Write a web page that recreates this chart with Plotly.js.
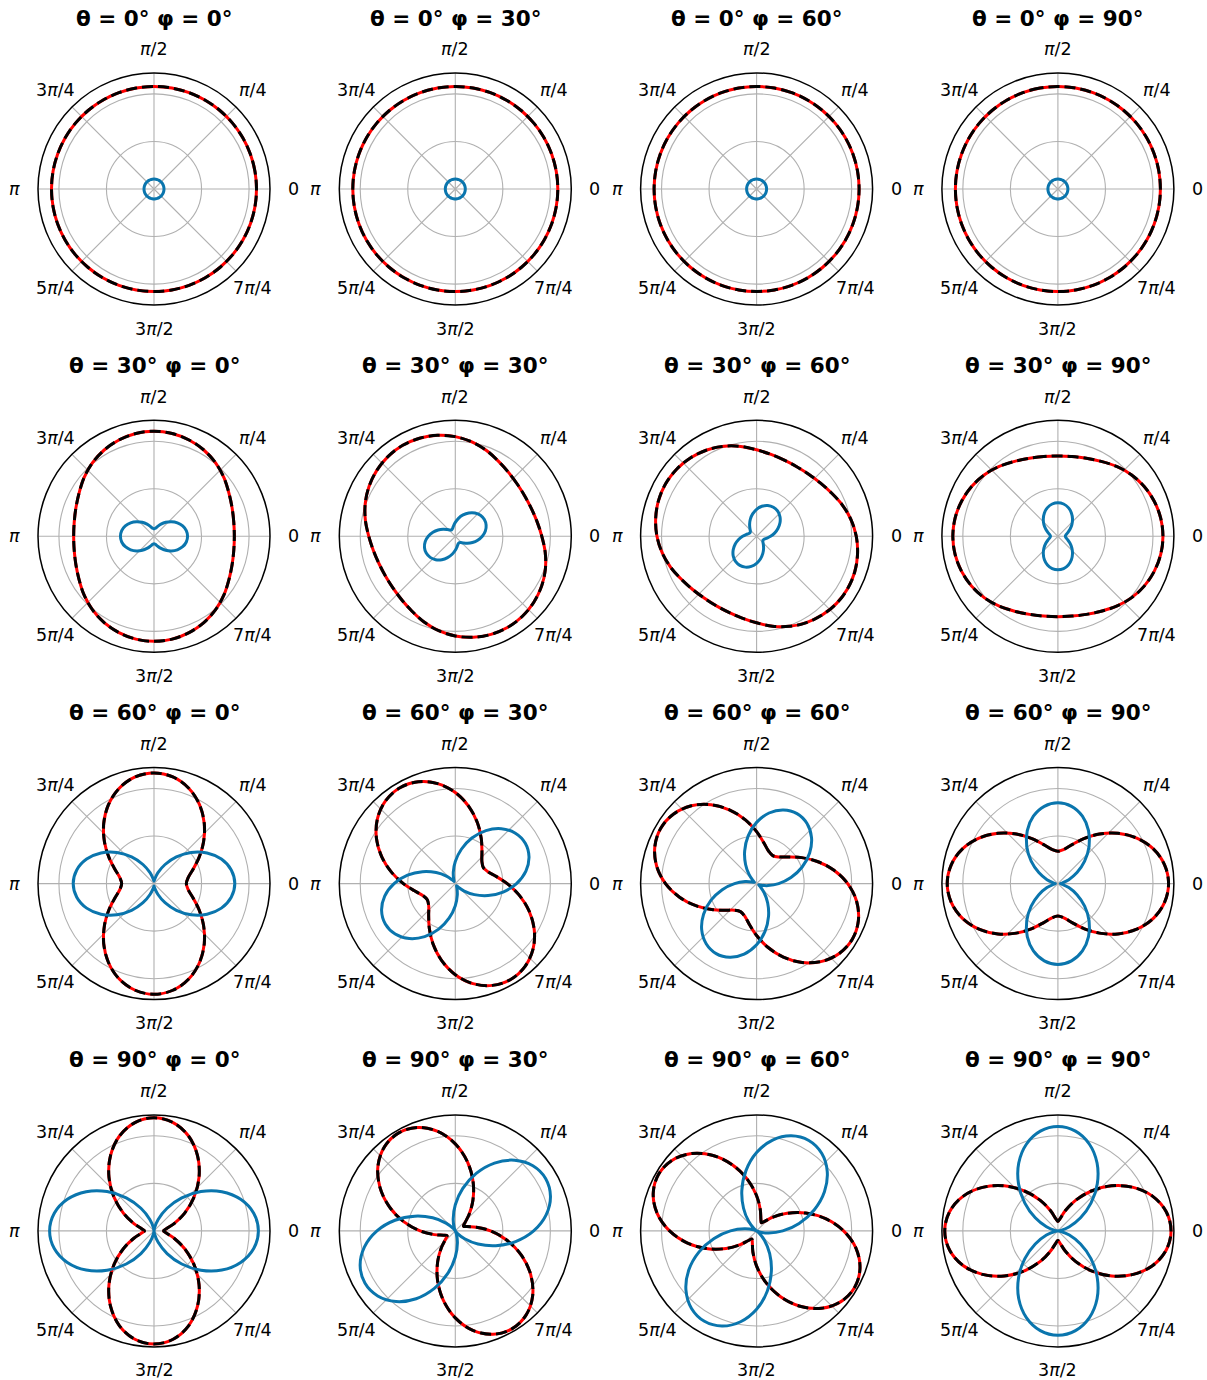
<!DOCTYPE html>
<html>
<head>
<meta charset="utf-8">
<script src="https://cdn.plot.ly/plotly-3.0.1.min.js"></script>
<style>
  html, body { margin: 0; padding: 0; background: #ffffff; }
  #chart { width: 1207px; height: 1380px; }
</style>
</head>
<body>
<div id="chart"></div>
<script>
// ---------------- DATA ----------------
// Polarizer angle (degrees) at which the radii were read (φ = 0 column)
const ALPHA_DEG = [0,10,20,30,40,50,60,70,80,90,100,110,120,130,140,150,160,170,180,
                   190,200,210,220,230,240,250,260,270,280,290,300,310,320,330,340,350,360];

// Row parameters (θ) and column parameters (φ); each φ column is the same pattern turned by φ
const THETA_LIST = [0, 30, 60, 90];
const PHI_LIST = [0, 30, 60, 90];

// Black (with red) curve radii, one list per θ row
const BLACK_T0 = [1.078,1.078,1.078,1.078,1.078,1.078,1.078,1.078,1.078,1.078,1.078,1.078,1.078,1.078,1.078,1.078,1.078,1.078,1.078,
                  1.078,1.078,1.078,1.078,1.078,1.078,1.078,1.078,1.078,1.078,1.078,1.078,1.078,1.078,1.078,1.078,1.078,1.078];
const BLACK_T30 = [0.845,0.852,0.874,0.910,0.960,1.008,1.048,1.078,1.098,1.105,1.098,1.078,1.048,1.008,0.960,0.910,0.874,0.852,0.845,
                   0.852,0.874,0.910,0.960,1.008,1.048,1.078,1.098,1.105,1.098,1.078,1.048,1.008,0.960,0.910,0.874,0.852,0.845];
const BLACK_T60 = [0.340,0.365,0.436,0.546,0.680,0.823,0.958,1.068,1.139,1.164,1.139,1.068,0.958,0.823,0.680,0.546,0.436,0.365,0.340,
                   0.365,0.436,0.546,0.680,0.823,0.958,1.068,1.139,1.164,1.139,1.068,0.958,0.823,0.680,0.546,0.436,0.365,0.340];
const BLACK_T90 = [0.100,0.132,0.225,0.370,0.548,0.737,0.915,1.062,1.157,1.190,1.157,1.062,0.915,0.737,0.548,0.370,0.225,0.132,0.100,
                   0.132,0.225,0.370,0.548,0.737,0.915,1.062,1.157,1.190,1.157,1.062,0.915,0.737,0.548,0.370,0.225,0.132,0.100];

// Blue curve radii, one list per θ row
const BLUE_T0 = [0.105,0.105,0.105,0.105,0.105,0.105,0.105,0.105,0.105,0.105,0.105,0.105,0.105,0.105,0.105,0.105,0.105,0.105,0.105,
                 0.105,0.105,0.105,0.105,0.105,0.105,0.105,0.105,0.105,0.105,0.105,0.105,0.105,0.105,0.105,0.105,0.105,0.105];
const BLUE_T30 = [0.353,0.345,0.321,0.284,0.239,0.192,0.147,0.110,0.086,0.078,0.086,0.110,0.147,0.192,0.239,0.284,0.321,0.345,0.353,
                  0.345,0.321,0.284,0.239,0.192,0.147,0.110,0.086,0.078,0.086,0.110,0.147,0.192,0.239,0.284,0.321,0.345,0.353];
const BLUE_T60 = [0.850,0.825,0.754,0.644,0.510,0.367,0.232,0.122,0.051,0.026,0.051,0.122,0.232,0.367,0.510,0.644,0.754,0.825,0.850,
                  0.825,0.754,0.644,0.510,0.367,0.232,0.122,0.051,0.026,0.051,0.122,0.232,0.367,0.510,0.644,0.754,0.825,0.850];
const BLUE_T90 = [1.098,1.065,0.970,0.824,0.644,0.454,0.275,0.128,0.033,0.000,0.033,0.128,0.275,0.454,0.644,0.824,0.970,1.065,1.098,
                  1.065,0.970,0.824,0.644,0.454,0.275,0.128,0.033,0.000,0.033,0.128,0.275,0.454,0.644,0.824,0.970,1.065,1.098];

const BLACK_ROWS = [BLACK_T0, BLACK_T30, BLACK_T60, BLACK_T90];
const BLUE_ROWS = [BLUE_T0, BLUE_T30, BLUE_T60, BLUE_T90];

// Angular tick labels
const TICK_VALS = [0, 45, 90, 135, 180, 225, 270, 315];
const TICK_TEXT = ['0', '<i>π</i>/4', '<i>π</i>/2', '3<i>π</i>/4', '<i>π</i>', '5<i>π</i>/4', '3<i>π</i>/2', '7<i>π</i>/4'];
const RADIAL_GRID = [0.5, 1.0];
const R_MAX = 1.22;

// ---------------- LAYOUT ----------------
const W = 1207, H = 1380;
const X0 = 154, DX = 301.3;   // panel centre x
const Y0 = 189, DY = 347.3;   // panel centre y
const R = 116;                // outer circle radius (px)
const LABEL_R = 139.5;        // tick-label centre distance (px)
const TITLE_DY = 171;         // title centre above panel centre

const FONT = 'DejaVu Sans, Liberation Sans, sans-serif';
const BLUE = '#0a75ad';

const traces = [];
const layout = {
  width: W, height: H,
  margin: {l: 0, r: 0, t: 0, b: 0},
  paper_bgcolor: 'white',
  showlegend: false,
  annotations: []
};

for (let i = 0; i < THETA_LIST.length; i++) {
  for (let j = 0; j < PHI_LIST.length; j++) {
    const k = i * 4 + j + 1;
    const key = k === 1 ? 'polar' : 'polar' + k;
    const cx = X0 + DX * j, cy = Y0 + DY * i;
    const phi = PHI_LIST[j];
    const thetaDeg = ALPHA_DEG.map(a => a + phi);

    layout[key] = {
      domain: {x: [(cx - R) / W, (cx + R) / W], y: [1 - (cy + R) / H, 1 - (cy - R) / H]},
      bgcolor: 'white',
      angularaxis: {
        rotation: 0, direction: 'counterclockwise',
        tickmode: 'array', tickvals: TICK_VALS, ticktext: TICK_TEXT,
        showticklabels: false, ticks: '',
        showline: true, linecolor: 'black', linewidth: 1.5,
        showgrid: true, gridcolor: '#b0b0b0', gridwidth: 1.1
      },
      radialaxis: {
        range: [0, R_MAX], tickmode: 'array', tickvals: RADIAL_GRID,
        showticklabels: false, ticks: '', showline: false,
        showgrid: true, gridcolor: '#b0b0b0', gridwidth: 1.1
      }
    };

    const sub = key;
    traces.push({
      type: 'scatterpolar', subplot: sub, mode: 'lines',
      r: BLACK_ROWS[i], theta: thetaDeg,
      line: {color: 'red', width: 3, shape: 'spline'}, hoverinfo: 'skip'
    });
    traces.push({
      type: 'scatterpolar', subplot: sub, mode: 'lines',
      r: BLACK_ROWS[i], theta: thetaDeg,
      line: {color: 'black', width: 3, dash: '11px,5px', shape: 'spline'}, hoverinfo: 'skip'
    });
    traces.push({
      type: 'scatterpolar', subplot: sub, mode: 'lines',
      r: BLUE_ROWS[i], theta: thetaDeg,
      line: {color: BLUE, width: 3, shape: 'spline'}, hoverinfo: 'skip'
    });

    // angular tick labels, centred just outside the circle
    TICK_VALS.forEach((tv, n) => {
      const t = tv * Math.PI / 180;
      layout.annotations.push({
        xref: 'paper', yref: 'paper',
        x: (cx + LABEL_R * Math.cos(t)) / W,
        y: 1 - (cy - LABEL_R * Math.sin(t)) / H,
        xanchor: 'center', yanchor: 'middle', showarrow: false,
        text: TICK_TEXT[n],
        font: {family: FONT, size: 17.5, color: 'black'}
      });
    });

    layout.annotations.push({
      xref: 'paper', yref: 'paper',
      x: cx / W, y: 1 - (cy - TITLE_DY) / H,
      xanchor: 'center', yanchor: 'middle', showarrow: false,
      text: '<b>θ = ' + THETA_LIST[i] + '° φ = ' + phi + '°</b>',
      font: {family: FONT, size: 21.5, color: 'black'}
    });
  }
}

Plotly.newPlot('chart', traces, layout, {staticPlot: true, displayModeBar: false});
</script>
</body>
</html>
